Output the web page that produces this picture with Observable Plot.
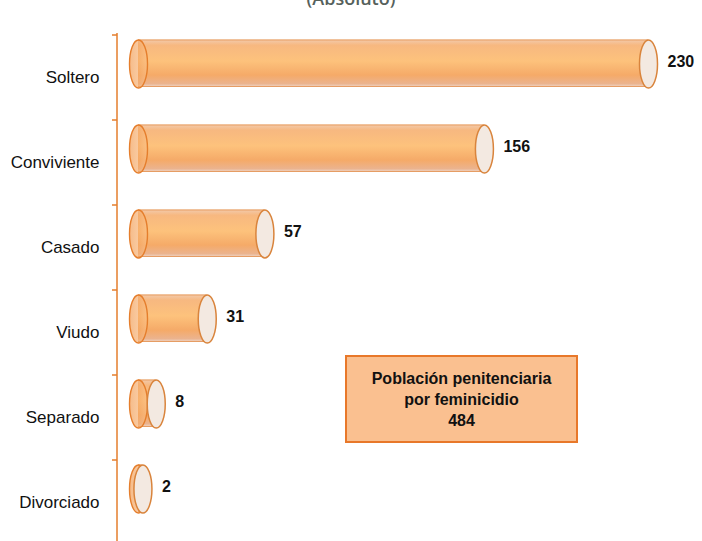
<!DOCTYPE html>
<html>
<head>
<meta charset="utf-8">
<script src="https://cdn.jsdelivr.net/npm/d3@7"></script>
<script src="https://cdn.jsdelivr.net/npm/@observablehq/plot@0.6"></script>
<style>
  html, body { margin: 0; padding: 0; background: #fff; }
  #wrap { position: relative; width: 702px; height: 541px; overflow: hidden; }
  #title { position: absolute; left: 0; width: 702px; top: -11px; text-align: center;
           font-family: "Open Sans", sans-serif; font-weight: 600; font-size: 18px; line-height: 18px; color: #56615c; }
  #box { position: absolute; left: 345px; top: 355px; width: 229px; height: 84px;
         background: #FAC090; border: 2px solid #E8782A; display: flex; flex-direction: column;
         justify-content: center; align-items: center; text-align: center;
         font-family: "Liberation Sans", Arial, sans-serif; font-weight: bold; font-size: 16px; line-height: 21px; color: #111; }
</style>
</head>
<body>
<svg width="0" height="0" style="position:absolute">
  <defs>
    <linearGradient id="bodyGrad" x1="0" y1="0" x2="0" y2="1">
      <stop offset="0%" stop-color="#E2853A"/>
      <stop offset="3%" stop-color="#F3C6A2"/>
      <stop offset="12%" stop-color="#F7B880"/>
      <stop offset="45%" stop-color="#FDC27C"/>
      <stop offset="75%" stop-color="#F5AA68"/>
      <stop offset="93%" stop-color="#EBB38E"/>
      <stop offset="97%" stop-color="#EDC9B2"/>
      <stop offset="100%" stop-color="#E2853A"/>
    </linearGradient>
    <linearGradient id="leftGrad" x1="0" y1="0" x2="1" y2="0">
      <stop offset="0%" stop-color="#F08E3A"/>
      <stop offset="100%" stop-color="#F9C08A"/>
    </linearGradient>
  </defs>
</svg>
<div id="wrap">
  <div id="title">(Absoluto)</div>
  <div id="chart"></div>
  <div id="box"><div>Población penitenciaria</div><div>por feminicidio</div><div>484</div></div>
</div>
<script>
const categories = ["Soltero", "Conviviente", "Casado", "Viudo", "Separado", "Divorciado"];
const values = [230, 156, 57, 31, 8, 2];
const data = categories.map((c, i) => ({estado: c, valor: values[i]}));

const ORANGE = "#E57E2C";

const ellipse = {
  draw(ctx) {
    const rx = 9, ry = 24, k = 0.5523;
    ctx.moveTo(rx, 0);
    ctx.bezierCurveTo(rx, ry * k, rx * k, ry, 0, ry);
    ctx.bezierCurveTo(-rx * k, ry, -rx, ry * k, -rx, 0);
    ctx.bezierCurveTo(-rx, -ry * k, -rx * k, -ry, 0, -ry);
    ctx.bezierCurveTo(rx * k, -ry, rx, -ry * k, rx, 0);
    ctx.closePath();
  }
};

// axis line with ticks at band boundaries
function axisLine(index, scales, values, dims) {
  const g = d3.create("svg:g").attr("stroke", ORANGE).attr("stroke-width", 1.5).attr("fill", "none");
  g.append("line")
    .attr("x1", dims.marginLeft).attr("x2", dims.marginLeft)
    .attr("y1", dims.marginTop).attr("y2", dims.height);
  for (const c of categories) {
    const yy = scales.y(c);
    g.append("line")
      .attr("x1", dims.marginLeft - 5).attr("x2", dims.marginLeft)
      .attr("y1", yy).attr("y2", yy);
  }
  return g.node();
}

const chart = Plot.plot({
  width: 702,
  height: 541,
  marginLeft: 117,
  marginTop: 33,
  marginRight: 0,
  marginBottom: 0,
  style: {fontFamily: "Liberation Sans, Arial, sans-serif", fontSize: "17px", color: "#111", background: "transparent"},
  x: {domain: [0, 230], range: [138, 648], axis: null},
  y: {domain: categories, range: [33, 546], padding: 0, tickSize: 0, tickPadding: 18, label: null},
  marks: [
    Plot.barX(data, {y: "estado", x1: 0, x2: "valor", fill: "url(#bodyGrad)", insetTop: 4.5, insetBottom: 33}),
    Plot.dot(data, {y: "estado", x: () => 0, symbol: ellipse, r: 10, dy: -14, fill: "url(#leftGrad)", fillOpacity: 0.6, stroke: ORANGE, strokeWidth: 1.4}),
    Plot.dot(data, {y: "estado", x: "valor", symbol: ellipse, r: 10, dy: -14, fill: "#F3E9E1", stroke: "#D9843C", strokeWidth: 1.5}),
    Plot.text(data, {y: "estado", x: "valor", text: d => String(d.valor), dx: 19, dy: -16, textAnchor: "start", fontWeight: "bold", fontSize: 16, fill: "#111"}),
    axisLine
  ]
});
document.getElementById("chart").appendChild(chart);
</script>
</body>
</html>
